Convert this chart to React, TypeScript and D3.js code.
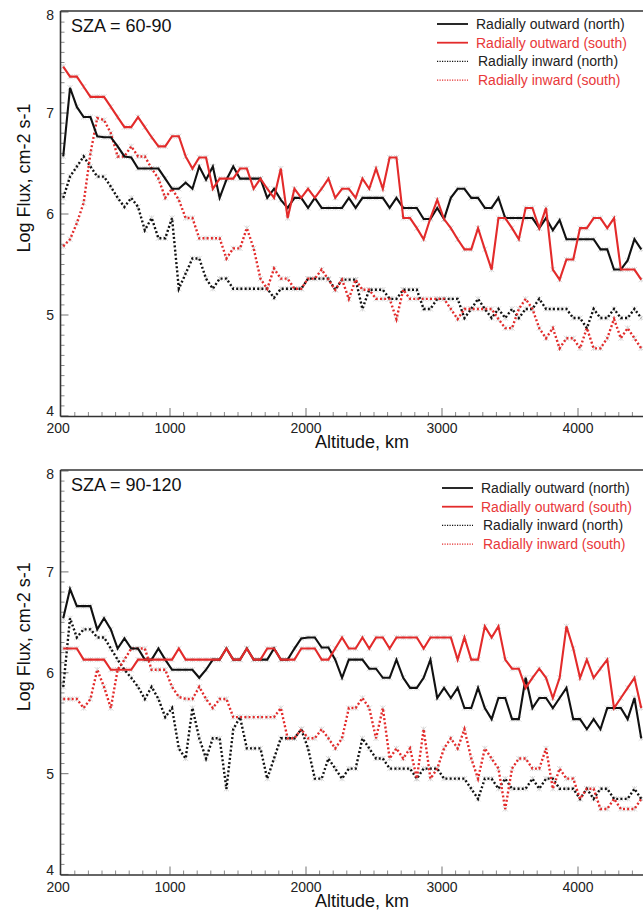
import React from "react";
import * as d3 from "d3";

// altitude sampling grid (km), 50 km bins
const altitudes: number[] = d3.range(0, 86).map((i) => 215 + 50 * i);

// Panel 1: SZA = 60-90
const p1NorthOut = [6.57,7.25,7.06,6.96,6.96,6.77,6.76,6.76,6.67,6.57,6.56,6.45,6.45,6.45,6.45,6.35,6.25,6.25,6.31,6.25,6.47,6.34,6.47,6.16,6.34,6.47,6.35,6.35,6.35,6.35,6.16,6.25,6.14,6.06,6.16,6.16,6.06,6.16,6.06,6.06,6.06,6.06,6.16,6.06,6.16,6.16,6.16,6.16,6.06,6.16,6.06,6.06,6.06,5.95,5.95,6.06,5.95,6.16,6.25,6.25,6.16,6.16,6.06,6.06,6.16,5.96,5.96,5.96,5.96,5.96,5.86,5.96,5.84,5.94,5.75,5.75,5.75,5.75,5.75,5.65,5.65,5.45,5.45,5.54,5.75,5.65];
const p1SouthOut = [7.46,7.36,7.36,7.26,7.16,7.16,7.16,7.06,6.96,6.86,6.86,6.96,6.86,6.76,6.67,6.67,6.77,6.77,6.57,6.45,6.56,6.56,6.25,6.35,6.35,6.35,6.45,6.45,6.25,6.35,6.25,6.16,6.45,5.96,6.25,6.16,6.25,6.16,6.25,6.35,6.16,6.25,6.25,6.16,6.35,6.25,6.45,6.25,6.56,6.56,5.96,5.96,5.86,5.75,5.96,6.14,5.95,5.86,5.75,5.65,5.65,5.86,5.65,5.45,5.96,5.96,5.86,5.75,6.06,6.06,5.86,6.06,5.45,5.35,5.55,5.55,5.86,5.86,5.96,5.96,5.86,5.96,5.45,5.45,5.45,5.35];
const p1NorthIn = [6.16,6.37,6.47,6.57,6.47,6.37,6.37,6.27,6.16,6.07,6.16,6.07,5.84,5.96,5.76,5.76,5.96,5.26,5.41,5.56,5.56,5.36,5.26,5.36,5.36,5.26,5.26,5.26,5.26,5.26,5.26,5.17,5.26,5.26,5.26,5.26,5.36,5.36,5.36,5.36,5.25,5.35,5.35,5.35,5.06,5.25,5.25,5.25,5.16,5.16,5.25,5.25,5.25,5.06,5.06,5.16,5.16,5.16,5.16,4.97,5.06,5.16,5.06,4.97,5.06,4.97,5.06,4.97,5.06,5.06,5.16,5.06,5.06,5.06,5.06,4.97,4.97,4.87,5.06,4.97,4.97,5.06,4.97,4.97,5.06,4.97];
const p1SouthIn = [5.68,5.75,5.91,6.11,6.6,6.95,6.93,6.8,6.57,6.57,6.67,6.57,6.57,6.45,6.35,6.16,6.25,6.14,5.96,5.96,5.76,5.76,5.76,5.76,5.56,5.66,5.66,5.86,5.66,5.36,5.26,5.46,5.36,5.36,5.26,5.26,5.36,5.36,5.45,5.35,5.25,5.35,5.16,5.35,5.25,5.25,5.16,5.16,5.16,4.96,5.25,5.16,5.16,5.16,5.16,5.16,5.16,5.06,4.96,5.06,5.06,5.06,5.06,5.06,4.96,4.87,4.87,5.06,5.16,5.06,4.87,4.77,4.87,4.67,4.77,4.77,4.67,4.87,4.67,4.67,4.77,4.96,4.77,4.87,4.77,4.67];

// Panel 2: SZA = 90-120
const p2NorthOut = [6.54,6.83,6.66,6.66,6.66,6.43,6.54,6.43,6.24,6.34,6.24,6.24,6.13,6.13,6.24,6.13,6.03,6.03,6.03,6.03,5.95,6.03,6.13,6.13,6.24,6.13,6.13,6.24,6.13,6.13,6.13,6.24,6.13,6.13,6.24,6.34,6.35,6.35,6.25,6.25,6.13,5.95,6.13,6.13,6.13,6.04,6.04,5.95,5.95,6.13,5.95,5.85,5.85,5.95,6.13,5.75,5.85,5.75,5.85,5.65,5.65,5.85,5.65,5.54,5.75,5.75,5.54,5.54,5.95,5.65,5.75,5.75,5.65,5.75,5.85,5.54,5.54,5.44,5.54,5.44,5.65,5.65,5.65,5.54,5.75,5.35];
const p2SouthOut = [6.24,6.24,6.24,6.13,6.13,6.13,6.13,6.03,6.03,6.03,6.03,6.13,6.13,6.13,6.13,6.13,6.13,6.24,6.13,6.13,6.13,6.13,6.13,6.13,6.24,6.13,6.13,6.24,6.13,6.13,6.24,6.24,6.13,6.13,6.13,6.24,6.24,6.24,6.13,6.13,6.24,6.35,6.24,6.24,6.35,6.24,6.35,6.35,6.24,6.35,6.35,6.35,6.35,6.24,6.35,6.35,6.35,6.35,6.13,6.35,6.13,6.13,6.46,6.35,6.46,6.13,6.04,6.04,5.85,5.95,6.04,5.95,5.75,5.95,6.46,6.24,5.95,6.13,5.95,6.04,6.13,5.65,5.75,5.85,5.95,5.65];
const p2NorthIn = [5.86,6.54,6.35,6.43,6.43,6.35,6.35,6.24,6.13,6.03,5.95,5.86,5.74,5.86,5.74,5.56,5.65,5.25,5.15,5.65,5.35,5.15,5.35,5.35,4.85,5.44,5.56,5.25,5.25,5.25,4.95,5.15,5.35,5.35,5.35,5.44,5.25,4.95,4.95,5.15,5.05,4.95,5.05,5.05,5.35,5.25,5.15,5.15,5.05,5.05,5.05,5.05,4.95,5.05,5.05,5.05,4.95,4.95,4.95,4.95,4.85,4.75,4.95,4.95,4.85,4.95,4.85,4.85,4.85,4.95,4.85,4.95,4.95,4.85,4.85,4.85,4.75,4.85,4.75,4.85,4.85,4.75,4.75,4.75,4.85,4.75];
const p2SouthIn = [5.74,5.74,5.74,5.65,5.74,6.03,5.86,5.65,6.03,6.13,6.24,6.24,6.24,6.03,6.03,6.03,5.86,5.76,5.74,5.74,5.86,5.74,5.65,5.74,5.74,5.56,5.56,5.56,5.56,5.56,5.56,5.56,5.65,5.35,5.35,5.44,5.35,5.35,5.44,5.35,5.25,5.35,5.65,5.65,5.75,5.65,5.35,5.65,5.15,5.25,5.15,5.25,4.95,5.44,4.95,5.05,5.25,5.35,5.25,5.44,5.15,4.95,5.25,5.15,5.05,4.65,5.05,5.15,5.15,5.05,5.05,5.25,4.85,5.05,4.95,4.95,4.75,4.85,4.85,4.65,4.65,4.75,4.65,4.65,4.65,4.75];

const xTickLabels = [200, 1000, 2000, 3000, 4000];
const yTickLabels = [4, 5, 6, 7, 8];
const legendLabels = ["Radially outward (north)", "Radially outward (south)", "Radially inward (north)", "Radially inward (south)"];
const panelTitles = ["SZA = 60-90", "SZA = 90-120"];

const BLACK = "#111111";
const RED = "#e32b2b";
const FONT = "'Liberation Sans', Arial, Helvetica, sans-serif";

type PanelProps = {
  title: string;
  series: number[][];
  yTop: number;
  yBottom: number;
  legendX: number;
  legendY: number;
};

const x = d3.scaleLinear().domain([200, 5000]).range([61.2, 61.2 + 4800 * 0.136]);
const X_LEFT = 60.5;
const X_RIGHT = 700;

function Panel({ title, series, yTop, yBottom, legendX, legendY }: PanelProps) {
  const y = d3.scaleLinear().domain([4, 8]).range([yBottom, yTop]);
  const styles = [
    { color: BLACK, dotted: false },
    { color: RED, dotted: false },
    { color: BLACK, dotted: true },
    { color: RED, dotted: true },
  ];
  const line = d3
    .line<number>()
    .x((_, i) => x(altitudes[i]))
    .y((d) => y(d));
  const minorX = d3.range(300, 5000, 100).filter((v) => v % 1000 !== 0);
  const majorX = d3.range(1000, 5001, 1000);
  const minorY = d3.range(41, 80).map((v) => v / 10).filter((v) => Math.abs(v - Math.round(v)) > 1e-6);
  const axisColor = "#333";
  const tickColor = "#8a8a8a";
  const yLabelShift = (v: number) => (v === 4 ? 0 : v === 8 ? 8 : 5);
  return (
    <g>
      {/* ticks */}
      {minorX.map((v) => (
        <line key={"mx" + v} x1={x(v)} x2={x(v)} y1={yBottom} y2={yBottom - 4} stroke={tickColor} strokeWidth={1} />
      ))}
      {majorX.map((v) => (
        <line key={"Mx" + v} x1={x(v)} x2={x(v)} y1={yBottom} y2={yBottom - 8} stroke={tickColor} strokeWidth={1.2} />
      ))}
      {minorY.map((v) => (
        <line key={"my" + v} x1={X_LEFT} x2={X_LEFT + 4} y1={y(v)} y2={y(v)} stroke={tickColor} strokeWidth={1} />
      ))}
      {yTickLabels.map((v) => (
        <line key={"My" + v} x1={X_LEFT} x2={X_LEFT + 8} y1={y(v)} y2={y(v)} stroke={tickColor} strokeWidth={1.2} />
      ))}
      {/* markers (faint asterisks) */}
      {series.map((s, si) => (
        <g key={"mk" + si} stroke="#c4c4c4" strokeWidth={0.8} opacity={0.8}>
          {s.map((d, i) => {
            const cx = x(altitudes[i]);
            const cy = y(d);
            const r = 2.6;
            return (
              <path
                key={i}
                d={`M${cx - r},${cy - r}L${cx + r},${cy + r}M${cx - r},${cy + r}L${cx + r},${cy - r}M${cx},${cy - r}L${cx},${cy + r}`}
              />
            );
          })}
        </g>
      ))}
      {/* series lines: inward drawn first */}
      {[2, 3, 0, 1].map((si) => (
        <path
          key={"ln" + si}
          d={line(series[si]) || ""}
          fill="none"
          stroke={styles[si].color}
          strokeWidth={styles[si].dotted ? 2.4 : 2.1}
          strokeDasharray={styles[si].dotted ? "2 2.2" : undefined}
          strokeLinejoin="miter"
        />
      ))}
      {/* frame */}
      <line x1={X_LEFT} x2={X_LEFT} y1={yTop - 1} y2={yBottom + 0.5} stroke={axisColor} strokeWidth={1.6} />
      <line x1={X_LEFT} x2={X_RIGHT} y1={yBottom + 0.5} y2={yBottom + 0.5} stroke={axisColor} strokeWidth={1.6} />
      <line x1={X_LEFT} x2={X_RIGHT} y1={yTop - 1} y2={yTop - 1} stroke={axisColor} strokeWidth={1.6} />
      {/* tick labels */}
      {xTickLabels.map((v) => (
        <text key={"xl" + v} x={x(v) - (v === 200 ? 3 : 0)} y={yBottom + 17} textAnchor="middle" fontSize={14} fill="#222" fontFamily={FONT}>
          {v}
        </text>
      ))}
      {yTickLabels.map((v) => (
        <text key={"yl" + v} x={54} y={y(v) + yLabelShift(v)} textAnchor="end" fontSize={14} fill="#222" fontFamily={FONT}>
          {v}
        </text>
      ))}
      {/* axis titles */}
      <text x={362} y={yBottom + 32} textAnchor="middle" fontSize={18} fill="#111" fontFamily={FONT}>
        Altitude, km
      </text>
      <text
        transform={`translate(30,${(yTop + yBottom) / 2 - 36}) rotate(-90)`}
        textAnchor="middle"
        fontSize={18}
        fill="#111"
        fontFamily={FONT}
      >
        Log Flux, cm-2 s-1
      </text>
      {/* panel title */}
      <text x={71} y={yTop + 20} fontSize={18} fill="#111" fontFamily={FONT}>
        {title}
      </text>
      {/* legend */}
      {legendLabels.map((lab, li) => {
        const ly = legendY + li * 18.7;
        const st = styles[li];
        return (
          <g key={"lg" + li}>
            <line
              x1={legendX}
              x2={legendX + 31}
              y1={ly}
              y2={ly}
              stroke={st.color}
              strokeWidth={st.dotted ? 1.3 : 1.8}
              strokeDasharray={st.dotted ? "1.2 1.3" : undefined}
            />
            <text
              x={legendX + 39 + (st.dotted ? 2 : 0)}
              y={ly + 5}
              fontSize={14}
              fill={st.color === RED ? "#e8383a" : "#222"}
              fontFamily={FONT}
            >
              {lab}
            </text>
          </g>
        );
      })}
    </g>
  );
}

export default function App() {
  return (
    <svg
      width={643}
      height={915}
      viewBox="0 0 643 915"
      style={{ position: "absolute", left: 0, top: 0, background: "#fff" }}
    >
      <rect x={0} y={0} width={643} height={915} fill="#fff" />
      <Panel
        title={panelTitles[0]}
        series={[p1NorthOut, p1SouthOut, p1NorthIn, p1SouthIn]}
        yTop={12}
        yBottom={416}
        legendX={437}
        legendY={24}
      />
      <Panel
        title={panelTitles[1]}
        series={[p2NorthOut, p2SouthOut, p2NorthIn, p2SouthIn]}
        yTop={471}
        yBottom={874.5}
        legendX={442}
        legendY={488}
      />
    </svg>
  );
}
